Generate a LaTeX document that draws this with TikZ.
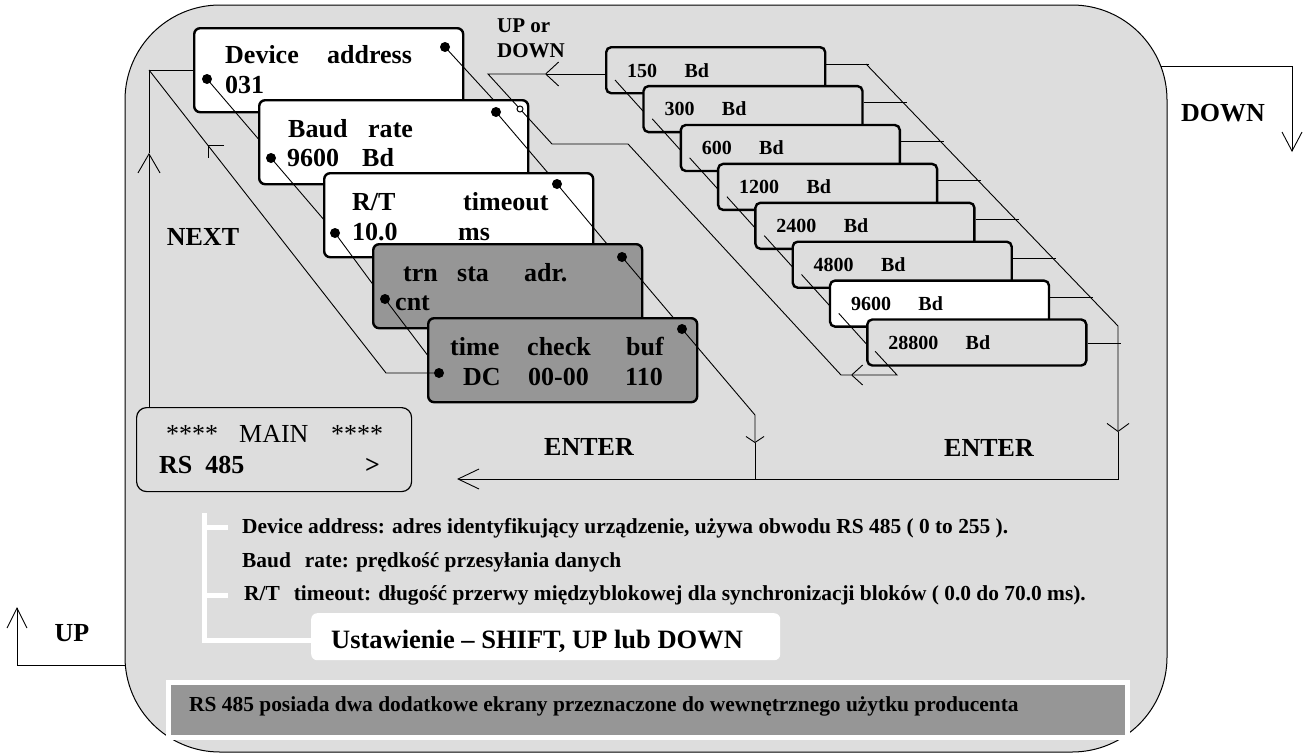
\documentclass[tikz,border=0pt]{standalone}
\usepackage{fontspec}
\setmainfont{Liberation Serif}
\usetikzlibrary{positioning,calc,arrows.meta}
\definecolor{panelGray}{RGB}{221,221,221}
\definecolor{screenGray}{RGB}{150,150,150}
\tikzstyle{panelStyle} = [fill=panelGray, draw=black, line width=1pt, rounded corners=95pt]
\tikzstyle{screenStyle} = [draw=black, line width=2.4pt, rounded corners=6pt, minimum width=269pt, minimum height=84pt, anchor=north west, inner sep=0pt]
\tikzstyle{rateBox} = [draw=black, line width=2.4pt, rounded corners=5pt, minimum width=219pt, minimum height=46pt, anchor=north west, inner sep=0pt]
\tikzstyle{screenText} = [anchor=base west, inner sep=0pt, font=\fontsize{26}{30}\selectfont\bfseries]
\tikzstyle{rateText} = [anchor=base west, inner sep=0pt, font=\fontsize{20}{24}\selectfont\bfseries]
\tikzstyle{bigLabel} = [inner sep=0pt, font=\fontsize{26}{30}\selectfont\bfseries]
\tikzstyle{noteText} = [anchor=base west, inner sep=0pt, font=\fontsize{21.4}{24}\selectfont\bfseries]
\tikzstyle{flowLine} = [line width=0.9pt]
\tikzstyle{dotStyle} = [circle, fill=black, inner sep=0pt, minimum size=10pt]
\tikzstyle{whiteBar} = [white, line width=5pt]
\tikzset{tipTo/.style 2 args={-{Straight Barb[length=#1,width=#2]}}}
\newcommand{\menuScreen}[4]{\node[screenStyle, fill=#4] (#1) at (#2,#3) {};}
\newcommand{\screenWord}[4]{\node[screenText] (#1) at (#2,#3) {#4};}
\newcommand{\screenDot}[3]{\node[dotStyle] (#1) at (#2,#3) {};}

\begin{document}
\begin{tikzpicture}[x=1pt, y=-1pt]
  \useasboundingbox (0,0) rectangle (1305,755);
  \draw[panelStyle] (125,5) rectangle (1167,752);

  % outside arrows
  \coordinate (downStart) at (1161,66);
  \coordinate (downTip) at (1292,152);
  \draw[flowLine, tipTo={19pt}{20pt}] (downStart) -| (downTip);
  \node[bigLabel] (downLabel) at (1223,113) {DOWN};
  \coordinate (upStart) at (125,665);
  \coordinate (upTip) at (17,607);
  \draw[flowLine, tipTo={20pt}{20pt}] (upStart) -| (upTip);
  \node[bigLabel] (upLabel) at (72,633) {UP};

  % main screen
  \node[draw, line width=1.2pt, rounded corners=10pt, minimum width=275pt, minimum height=84pt, anchor=north west, inner sep=0pt, fill=panelGray] (mainScreen) at (136,407) {};
  \node[anchor=base west, inner sep=0pt, font=\fontsize{26}{30}\selectfont] (mainA) at (166,442) {****};
  \node[anchor=base west, inner sep=0pt, font=\fontsize{26}{30}\selectfont] (mainB) at (239,442) {MAIN};
  \node[anchor=base west, inner sep=0pt, font=\fontsize{26}{30}\selectfont] (mainC) at (331,442) {****};
  \screenWord{mainD}{159}{473}{RS~~485}
  \screenWord{mainE}{365}{473}{>}

  % menu screens
  \menuScreen{devScreen}{193}{27}{white}
  \screenWord{devA}{225}{63}{Device}
  \screenWord{devB}{327}{63}{address}
  \screenWord{devC}{225}{93}{031}
  \screenDot{devL}{207}{79}
  \screenDot{devR}{445}{47}
  \draw[flowLine] (devL.center) -- +(60,70);
  \draw[flowLine] (devR.center) -- +(55,60);

  \menuScreen{baudScreen}{258}{99}{white}
  \screenWord{baudA}{288}{137}{Baud}
  \screenWord{baudB}{368}{137}{rate}
  \screenWord{baudC}{287}{166}{9600}
  \screenWord{baudD}{362}{166}{Bd}
  \screenDot{baudL}{271}{158}
  \screenDot{baudR}{496}{112}
  \draw[flowLine] (baudL.center) -- +(60,70);
  \draw[flowLine] (baudR.center) -- +(58,68);

  \menuScreen{rtScreen}{323}{172}{white}
  \screenWord{rtA}{352}{210}{R/T}
  \screenWord{rtB}{463}{210}{timeout}
  \screenWord{rtC}{352}{240}{10.0}
  \screenWord{rtD}{458}{240}{ms}
  \screenDot{rtL}{335}{233}
  \screenDot{rtR}{557}{184}
  \draw[flowLine] (rtL.center) -- +(45,61);
  \draw[flowLine] (rtR.center) -- +(55,66);

  \menuScreen{trnScreen}{372}{243}{screenGray}
  \screenWord{trnA}{403}{281}{trn}
  \screenWord{trnB}{457}{281}{sta}
  \screenWord{trnC}{524}{281}{adr.}
  \screenWord{trnD}{395}{310}{cnt}
  \screenDot{trnL}{385}{299}
  \screenDot{trnR}{622}{257}
  \draw[flowLine] (trnL.center) -- +(50,66);
  \draw[flowLine] (trnR.center) -- +(55,65);

  \menuScreen{timeScreen}{427}{317}{screenGray}
  \screenWord{timeA}{450}{355}{time}
  \screenWord{timeB}{527}{355}{check}
  \screenWord{timeC}{626}{355}{buf}
  \screenWord{timeD}{463}{385}{DC}
  \screenWord{timeE}{528}{385}{00-00}
  \screenWord{timeF}{625}{385}{110}
  \screenDot{timeL}{439}{373}
  \screenDot{timeR}{682}{329}

  % baud rate list
  \foreach \rate/\boxFill [count=\i from 0] in {150/panelGray,300/panelGray,600/panelGray,1200/panelGray,2400/panelGray,4800/panelGray,9600/white,28800/panelGray} {
    \pgfmathsetmacro{\bx}{605 + 37.3*\i}
    \pgfmathsetmacro{\by}{46 + 38.9*\i}
    \node[rateBox, fill=\boxFill] (rate\i) at (\bx,\by) {};
    \node[rateText] (num\i) at (\bx+22,\by+31) {\rate};
    \node[rateText, base right=27pt of num\i] (unit\i) {Bd};
    \ifnum\i<7
      \draw[flowLine] (\bx+10,\by+34) -- +(37,41);
      \draw[flowLine] ($(rate\i.north east)+(0,18)$) -- +(43,0);
    \fi
  }
  \draw[flowLine] ($(rate7.north east)+(0,25)$) -- +(33,0);

  % ENTER paths
  \coordinate (enterBend) at (755,415);
  \coordinate (enterTip) at (755,443);
  \coordinate (enterFoot) at (755,479);
  \draw[flowLine, tipTo={6pt}{18pt}] (timeR.center) -- (enterBend) -- (enterTip);
  \draw[flowLine] (enterTip) -- (enterFoot);
  \coordinate (rateTop) at (866,64);
  \coordinate (rateBend) at (1118,326);
  \coordinate (rateTip) at (1118,432);
  \coordinate (rateFoot) at (1118,479);
  \coordinate (backTip) at (457,479);
  \draw[flowLine, tipTo={8pt}{22pt}] (rateTop) -- (rateBend) -- (rateTip);
  \draw[flowLine, tipTo={21pt}{20pt}] (rateTip) -- (rateFoot) -- (backTip);

  % NEXT path
  \coordinate (nextCorner) at (149,70);
  \coordinate (nextTip) at (149,153);
  \coordinate (nextKnee) at (386,373);
  \draw[flowLine, tipTo={19pt}{22pt}] (mainScreen.north -| nextCorner) -- (nextTip);
  \draw[flowLine] (nextTip) -- (nextCorner) -- (nextCorner -| devScreen.west);
  \draw[flowLine] (timeL.center) -- (nextKnee) -- (nextCorner);
  \coordinate (nextMark) at ($(nextCorner)!0.249!(nextKnee)$);
  \draw[flowLine] ($(nextMark)+(16,0)$) -- (nextMark) -- +(0,13);

  % UP or DOWN path
  \coordinate (ldSplit) at (488,74);
  \coordinate (ldTip) at (545,74);
  \coordinate (ldKnee) at (552,144);
  \coordinate (ldElbow) at (628,144);
  \coordinate (ldFoot) at (841,375);
  \coordinate (ldTip2) at (851,375);
  \coordinate (ldEnd) at (897,375);
  \draw[flowLine, tipTo={13pt}{24pt}] (rate0.west |- ldTip) -- (ldTip);
  \draw[flowLine] (ldTip) -- (ldSplit) -- (ldKnee) -- (ldElbow) -- (ldFoot) -- (ldTip2);
  \draw[flowLine, tipTo={11pt}{20pt}] ($(rate7.north west)+(9,33)$) -- (ldEnd) -- (ldTip2);
  \node[circle, draw, fill=white, line width=1pt, inner sep=0pt, minimum size=6pt] (baudRing) at ($(ldSplit)!0.5!(ldKnee)$) {};

  % labels
  \node[anchor=base west, inner sep=0pt, font=\fontsize{21}{25}\selectfont\bfseries] (upDownA) at (497,32) {UP or};
  \node[anchor=base west, inner sep=0pt, font=\fontsize{21}{25}\selectfont\bfseries] (upDownB) at (497,57) {DOWN};
  \node[bigLabel] (nextLabel) at (203,237) {NEXT};
  \node[bigLabel] (enterA) at (589,447) {ENTER};
  \node[bigLabel] (enterB) at (989,448) {ENTER};

  % notes
  \node[fill=white, rounded corners=6pt, minimum width=469pt, minimum height=47pt, anchor=north west, inner sep=0pt] (setBox) at (311,613) {};
  \node[anchor=base west, inner sep=0pt, font=\fontsize{26.5}{30}\selectfont\bfseries] (setText) at (331,648) {Ustawienie -- SHIFT, UP lub DOWN};
  \coordinate (barTop) at (204,513);
  \coordinate (barFoot) at (204,640);
  \draw[whiteBar] (barTop) -- (barFoot) -- (barFoot -| setBox.west);
  \draw[whiteBar] (204,527) -- +(24,0);
  \draw[whiteBar] (204,595) -- +(24,0);
  \node[noteText] (noteA) at (242,533) {Device address: adres identyfikujący urządzenie, używa obwodu RS 485 ( 0 to 255 ).};
  \node[noteText] (noteB) at (242,567) {Baud\hspace{14pt}rate: prędkość przesyłania danych};
  \node[noteText] (noteC) at (244,600) {R/T\hspace{14pt}timeout: długość przerwy międzyblokowej dla synchronizacji bloków ( 0.0 do 70.0 ms).};

  % banner
  \node[fill=screenGray, draw=white, line width=5pt, minimum width=959pt, minimum height=55pt, anchor=north west, inner sep=0pt] (banner) at (165.5,679.5) {};
  \node[noteText] (bannerText) at (189,711) {RS 485 posiada dwa dodatkowe ekrany przeznaczone do wewnętrznego użytku producenta};
\end{tikzpicture}
\end{document}
